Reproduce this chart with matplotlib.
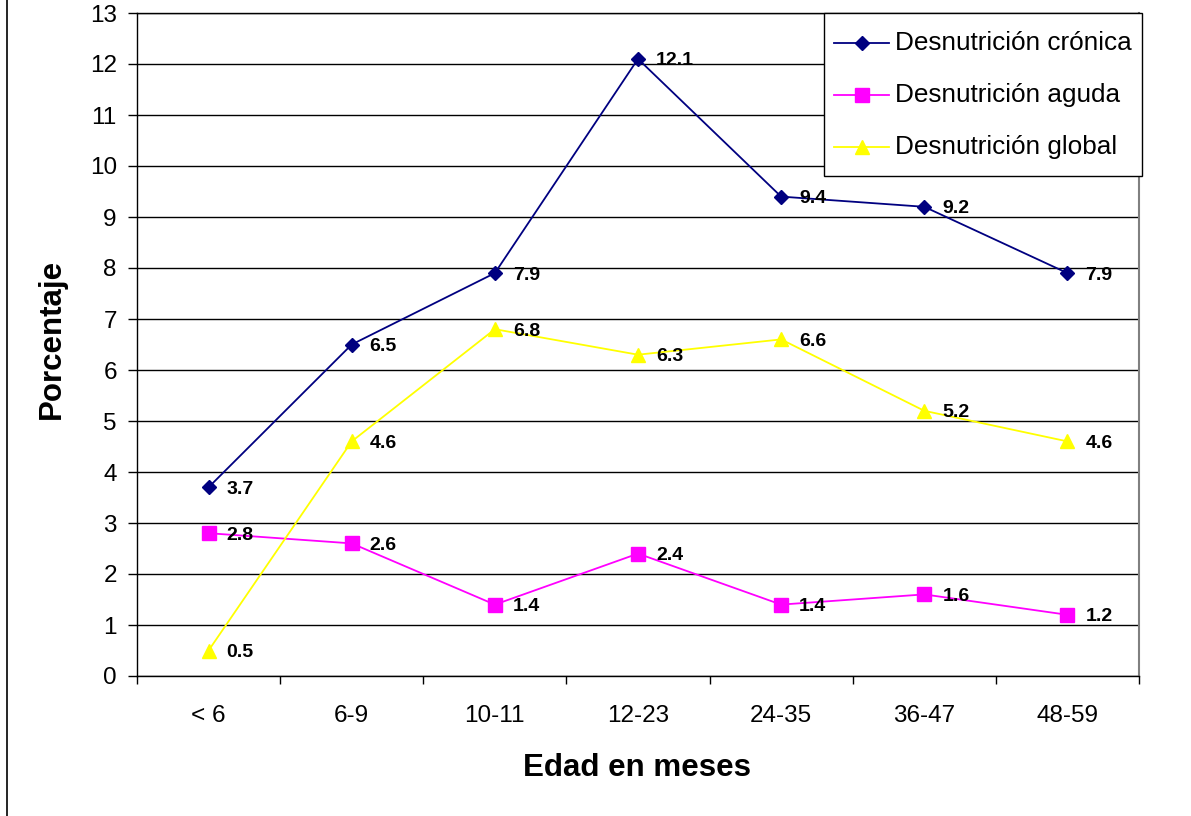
import numpy as np
import matplotlib.pyplot as plt
from matplotlib.lines import Line2D

plt.rcParams['font.family'] = ['Liberation Sans', 'DejaVu Sans']

# datos
edades = ["< 6", "6-9", "10-11", "12-23", "24-35", "36-47", "48-59"]
cronica = [3.7, 6.5, 7.9, 12.1, 9.4, 9.2, 7.9]
aguda = [2.8, 2.6, 1.4, 2.4, 1.4, 1.6, 1.2]
glob = [0.5, 4.6, 6.8, 6.3, 6.6, 5.2, 4.6]

series = [
    ("Desnutrición crónica", cronica, "#000080", "D", 7.5),
    ("Desnutrición aguda", aguda, "#FF00FF", "s", 9.5),
    ("Desnutrición global", glob, "#FFFF00", "^", 9.5),
]

fig = plt.figure(figsize=(11.91, 8.16), dpi=100)
ax = fig.add_axes([137/1191, 1 - 676/816, 1002/1191, 663/816])

x = np.arange(len(edades)) + 0.5
for nombre, vals, col, mk, ms in series:
    ax.plot(x, vals, color=col, lw=1.3, marker=mk, ms=ms, mec=col, mfc=col,
            label=nombre, zorder=3)
    for xi, v in zip(x, vals):
        ax.annotate(f"{v:.1f}", (xi, v), xytext=(18, -2), textcoords='offset pixels',
                    ha='left', va='center', fontsize=14, fontweight='bold', zorder=4)

ax.set_xlim(0, len(edades))
ax.set_ylim(0, 13)
ax.set_yticks(range(0, 14))
ax.tick_params(axis='y', labelsize=17.5, length=6.5, width=1, pad=8, direction='out')
ax.grid(axis='y', color='black', lw=1)
ax.set_axisbelow(True)

ax.set_xticks(range(0, len(edades) + 1))
ax.set_xticklabels([])
ax.set_xticks(x, minor=True)
ax.set_xticklabels(edades, minor=True)
ax.tick_params(axis='x', which='major', length=6, width=1, direction='out')
ax.tick_params(axis='x', which='minor', length=0, labelsize=17.5, pad=21)

for s in ['left', 'bottom', 'top']:
    ax.spines[s].set_color('black')
    ax.spines[s].set_linewidth(1)
ax.spines['right'].set_color('#808080')
ax.spines['right'].set_linewidth(1.5)

ax.set_xlabel("Edad en meses", fontsize=22.5, fontweight='bold', va='center')
ax.xaxis.set_label_coords(0.499, -0.1388)
ax.set_ylabel("Porcentaje", fontsize=22.5, fontweight='bold', va='center')
ax.yaxis.set_label_coords(-0.0848, 0.509)

leg = ax.legend(loc='upper right', bbox_to_anchor=(1142/1191, 1 - 13/816),
                bbox_transform=fig.transFigure, fontsize=18.8, frameon=True,
                fancybox=False, shadow=False, handlelength=2.08, handletextpad=0.23,
                handleheight=1.87, labelspacing=0.54, borderpad=0.4, borderaxespad=0)
leg.get_frame().set_edgecolor('black')
leg.get_frame().set_linewidth(1)
leg.get_frame().set_alpha(1)
# centrar texto con el símbolo en cada fila
for col in leg._legend_handle_box.get_children():
    for row in col.get_children():
        row.align = 'center'
        da = row.get_children()[0]
        da.ydescent = da.ydescent / 2

# borde izquierdo de la figura
fig.add_artist(Line2D([7/1191, 7/1191], [0, 1], transform=fig.transFigure,
                      color='black', lw=1.2))

fig.savefig("out.png", dpi=100)
